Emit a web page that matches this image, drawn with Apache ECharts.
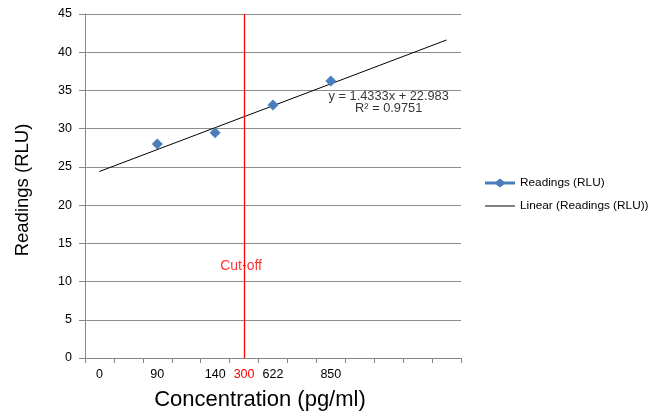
<!DOCTYPE html>
<html>
<head>
<meta charset="utf-8">
<script src="https://cdn.jsdelivr.net/npm/echarts@6/dist/echarts.min.js"></script>
<style>html,body{margin:0;padding:0;background:#fff}#c{width:652px;height:420px}</style>
</head>
<body>
<div id="c"></div>
<script>
// Category slots along the x axis (Excel-style, empty slots are blank)
var categories = ['0', '', '90', '', '140', '300', '622', '', '850', '', '', '', ''];
// Readings (RLU) at category indexes
var readingIdx = [2, 4, 6, 8];
var readingVals = [28.0, 29.45, 33.1, 36.25];
// Linear trendline endpoints (index, value)
var trendIdx = [0, 12];
var trendVals = [24.4, 41.6];
// Cut-off position and label
var cutoffIdx = 5;
var cutoffLabelVal = 12;
// Equation label anchor
var eqIdx = 10;
var eqVal = 33.4;
var eqText = 'y = 1.4333x + 22.983\nR² = 0.9751';
var yTicks = {min: 0, max: 45, interval: 5};

var FONT = 'Liberation Sans, Arial, sans-serif';
var catData = categories.map(function (c, i) {
  return i === cutoffIdx ? {value: c, textStyle: {color: '#ff0000', padding: [0, 0, 3, 0]}} : c;
});
function pairs(xs, ys) { return xs.map(function (x, i) { return [x, ys[i]]; }); }

var iconReadings = 'path://M0,3.6L11,3.6L15,0.5L19,3.6L30,3.6L30,6.4L19,6.4L15,9.5L11,6.4L0,6.4Z';
var iconLinear = 'path://M0,0L30,0L30,1L0,1Z';

var chart = echarts.init(document.getElementById('c'));
chart.setOption({
  animation: false,
  backgroundColor: '#fff',
  grid: {left: 85, right: 191, top: 14, bottom: 62},
  legend: {
    orient: 'vertical', left: 480, top: 172,
    itemWidth: 30, itemHeight: 10, itemGap: 11,
    textStyle: {fontFamily: FONT, fontSize: 11.8, color: '#000'},
    data: [
      {name: 'Readings (RLU)', icon: iconReadings, itemStyle: {color: '#4A7EBB'}},
      {name: 'Linear (Readings (RLU))', icon: iconLinear, itemStyle: {color: '#000'}}
    ]
  },
  xAxis: {
    type: 'category', data: catData, boundaryGap: true,
    name: 'Concentration (pg/ml)', nameLocation: 'middle', nameGap: 31,
    nameTextStyle: {fontFamily: FONT, fontSize: 22, color: '#000', padding: [0, 26, 0, 0]},
    axisLine: {lineStyle: {color: '#868686'}},
    axisTick: {show: true, interval: 0, length: 5, lineStyle: {color: '#868686'}},
    axisLabel: {interval: 0, fontFamily: FONT, fontSize: 12.5, color: '#000', margin: 10},
    splitLine: {show: false}
  },
  yAxis: {
    type: 'value', min: yTicks.min, max: yTicks.max, interval: yTicks.interval,
    name: 'Readings (RLU)', nameLocation: 'middle', nameGap: 53, nameRotate: 90,
    nameTextStyle: {fontFamily: FONT, fontSize: 18.5, color: '#000', padding: [0, 8, 0, 0]},
    axisLine: {show: true, lineStyle: {color: '#868686'}},
    axisTick: {show: true, length: 6, lineStyle: {color: '#868686'}},
    axisLabel: {fontFamily: FONT, fontSize: 12.5, color: '#000', margin: 13},
    splitLine: {lineStyle: {color: '#8c8c8c', width: 1}}
  },
  series: [
    {
      name: 'Readings (RLU)', type: 'line', data: pairs(readingIdx, readingVals),
      symbol: 'diamond', symbolSize: 11,
      itemStyle: {color: '#4A7EBB'},
      lineStyle: {width: 0, opacity: 0},
      z: 5,
      markLine: {
        silent: true, symbol: 'none', label: {show: false},
        lineStyle: {color: '#ff0000', width: 1.3, type: 'solid'},
        data: [{xAxis: cutoffIdx}]
      }
    },
    {
      name: 'Linear (Readings (RLU))', type: 'line', data: pairs(trendIdx, trendVals),
      symbol: 'none', lineStyle: {color: '#000', width: 1}, itemStyle: {color: '#000'}, z: 4
    },
    {
      name: 'cutoff-label', type: 'scatter', data: [[cutoffIdx, cutoffLabelVal]],
      symbolSize: 0, silent: true,
      label: {show: true, position: 'inside', offset: [-3, 0], formatter: 'Cut-off', color: '#ff0000', fontFamily: FONT, fontSize: 14}
    },
    {
      name: 'eq-label', type: 'scatter', data: [[eqIdx, eqVal]],
      symbolSize: 0, silent: true,
      label: {show: true, position: 'inside', formatter: eqText, color: '#000', fontFamily: FONT, fontSize: 12.8, lineHeight: 12, align: 'center'}
    }
  ]
});
</script>
</body>
</html>
